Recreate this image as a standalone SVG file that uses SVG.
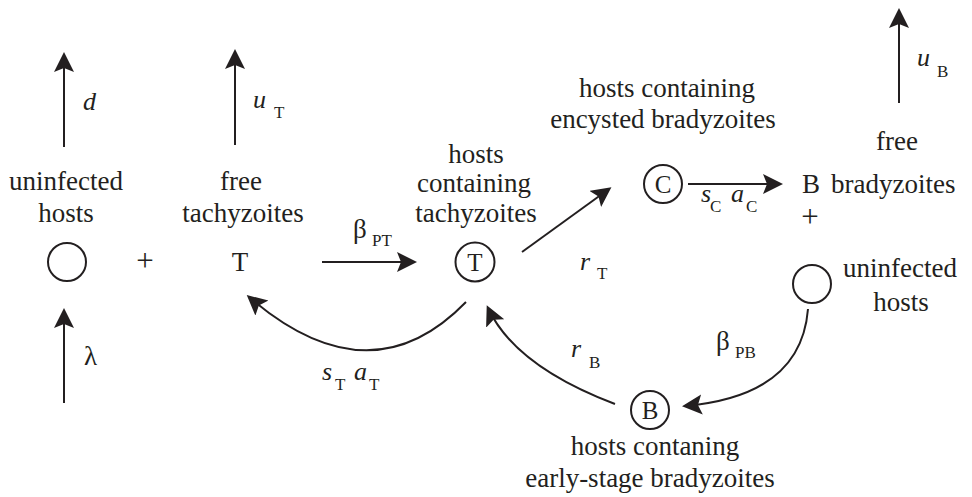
<svg xmlns="http://www.w3.org/2000/svg" width="972" height="497" viewBox="0 0 972 497">
<style>
text{font-family:'Liberation Serif','Times New Roman',serif;fill:#231f20}
.t{font-size:27px;text-anchor:middle}
.ts{font-size:27px}
.p{font-size:31px;text-anchor:middle}
.v{font-size:26px;font-style:italic}
.g{font-size:27px}
.s{font-size:17px}
.c{font-size:25px;text-anchor:middle}
.e{fill:none;stroke:#231f20;stroke-width:2}
.n{fill:none;stroke:#231f20;stroke-width:2}
</style>
<defs>
<marker id="ah" markerUnits="userSpaceOnUse" markerWidth="22" markerHeight="22" refX="17" refY="10" orient="auto" viewBox="0 0 22 22">
<path d="M20,10 L0,0 L4,10 L0,20 Z" fill="#231f20"/>
</marker>
</defs>

<g id="connectors">
<path class="e" d="M64,147 L64,55" marker-end="url(#ah)"/>
<path class="e" d="M64,403 L64,311" marker-end="url(#ah)"/>
<path class="e" d="M235,145 L235,52" marker-end="url(#ah)"/>
<path class="e" d="M899,103 L899,11" marker-end="url(#ah)"/>
<path class="e" d="M322,262 L414,262" marker-end="url(#ah)"/>
<path class="e" d="M522,252 L609,189" marker-end="url(#ah)"/>
<path class="e" d="M688,184 L780,184" marker-end="url(#ah)"/>
<path class="e" d="M466,302 Q370,401 249,297" marker-end="url(#ah)"/>
<path class="e" d="M615,404 Q515,366 488,308" marker-end="url(#ah)"/>
<path class="e" d="M808,309 Q801,396 685,406" marker-end="url(#ah)"/>
<g id="rate-labels">
<text class="v" x="83" y="110">d</text>
<text class="g" x="84" y="365">λ</text>
<text class="v" x="253" y="108">u</text><text class="s" x="274" y="118">T</text>
<text class="v" x="917" y="66">u</text><text class="s" x="937" y="77">B</text>
<text class="g" x="353" y="238">β</text><text class="s" x="372" y="246">PT</text>
<text class="v" x="580" y="270">r</text><text class="s" x="597" y="279">T</text>
<text class="v" x="701" y="202">s</text><text class="s" x="710" y="212">C</text>
<text class="v" x="731" y="202">a</text><text class="s" x="746" y="212">C</text>
<text class="v" x="322" y="380">s</text><text class="s" x="335" y="390">T</text>
<text class="v" x="354" y="380">a</text><text class="s" x="369" y="390">T</text>
<text class="v" x="571" y="357">r</text><text class="s" x="589" y="368">B</text>
<text class="g" x="716" y="350">β</text><text class="s" x="735" y="358">PB</text>
</g>
</g>

<g id="uninfected-left">
<text class="t" x="66" y="190">uninfected</text>
<text class="t" x="66" y="222">hosts</text>
<circle class="n" cx="67" cy="262" r="19"/>
</g>
<g id="plus-left"><text class="p" x="145" y="271">+</text></g>
<g id="free-tachyzoites">
<text class="t" x="241" y="190">free</text>
<text class="t" x="243" y="222">tachyzoites</text>
<text class="t" x="240" y="271">T</text>
</g>
<g id="hosts-tachyzoites">
<text class="t" x="476" y="163">hosts</text>
<text class="t" x="474" y="192">containing</text>
<text class="t" x="476" y="222">tachyzoites</text>
<circle class="n" cx="475" cy="262" r="19.5"/>
<text class="c" x="475" y="271">T</text>
</g>
<g id="hosts-encysted">
<text class="t" x="667" y="97">hosts containing</text>
<text class="t" x="663" y="128">encysted bradyzoites</text>
<circle class="n" cx="663" cy="184" r="19"/>
<text class="c" x="663" y="193">C</text>
</g>
<g id="free-bradyzoites">
<text class="t" x="897" y="150">free</text>
<text class="t" x="811" y="193">B</text>
<text class="ts" x="831" y="193">bradyzoites</text>
</g>
<g id="plus-right"><text class="p" x="810" y="227">+</text></g>
<g id="uninfected-right">
<circle class="n" cx="812" cy="284" r="19"/>
<text class="t" x="900" y="277">uninfected</text>
<text class="t" x="901" y="311">hosts</text>
</g>
<g id="hosts-early">
<circle class="n" cx="650" cy="410" r="19"/>
<text class="c" x="650" y="419">B</text>
<text class="t" x="655" y="455">hosts contaning</text>
<text class="t" x="650" y="487">early-stage bradyzoites</text>
</g>
</svg>
